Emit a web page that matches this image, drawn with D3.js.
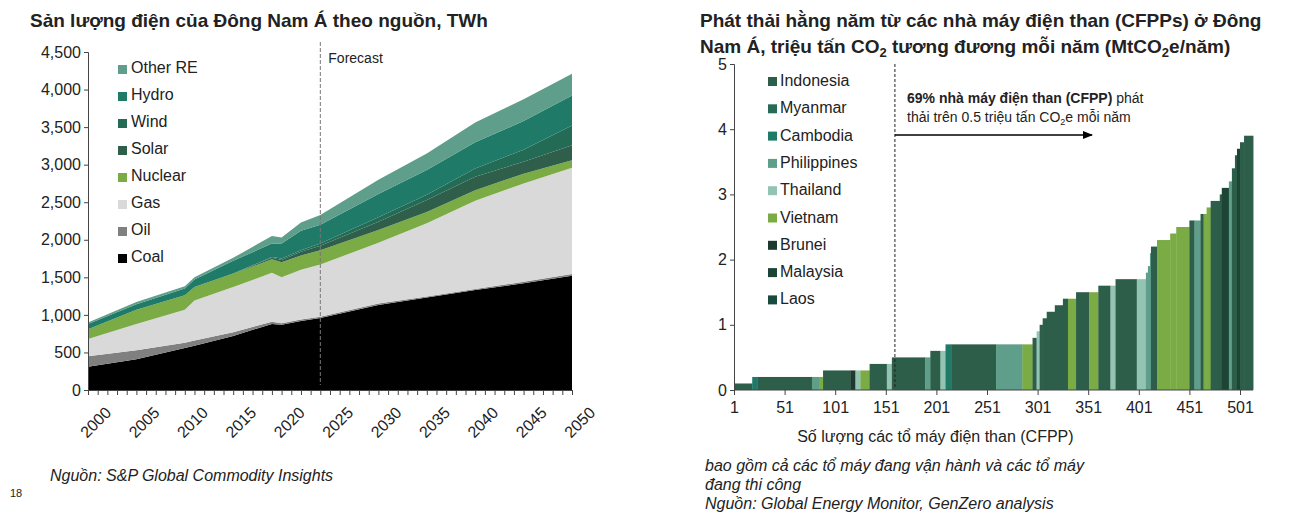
<!DOCTYPE html><html><head><meta charset="utf-8">
<script src="https://cdn.jsdelivr.net/npm/d3@7"></script>
<style>body{margin:0;background:#fff;font-family:Arial,"Liberation Sans",sans-serif}</style></head><body>
<svg id="c" width="1302" height="532"></svg>
<script>
const years=[2000,2005,2010,2011,2015,2019,2020,2022,2024,2030,2035,2040,2045,2050];
const coal=[310,410,560,590,720,880,870,920,960,1130,1230,1330,1420,1520];
const oil=[140,120,70,70,50,30,20,20,15,20,15,15,20,25];
const gas=[230,350,440,530,600,650,610,660,695,810,975,1175,1310,1415];
const nuclear=[130,190,190,180,180,180,200,190,190,170,150,140,130,100];
const solar=[0,0,0,0,0,20,30,50,60,110,160,180,160,200];
const wind=[0,0,0,0,0,10,20,20,30,60,70,110,160,260];
const hydro=[70,70,90,100,170,180,200,260,250,310,330,350,380,400];
const otherRE=[20,30,30,30,40,100,80,110,130,190,220,260,290,290];
const seriesNames=["Coal","Oil","Gas","Nuclear","Solar","Wind","Hydro","Other RE"];
const seriesVals=[coal,oil,gas,nuclear,solar,wind,hydro,otherRE];
const seriesColors=["#000000","#808080","#d9d9d9","#7aab44","#2f5f4a","#246b55","#1f7a68","#5e9e8a"];
const yTicksL=[0,500,1000,1500,2000,2500,3000,3500,4000,4500];
const xTicksL=[2000,2005,2010,2015,2020,2025,2030,2035,2040,2045,2050];

const segStart=[1,19,24,78,85,89,116,121,126,135,152,157,190,195,205,210,216,260,286,296,300,303,306,310,318,326,331,339,352,361,373,378,399,408,410,412,413,419,432,438,451,456,462,465,468,472,481,483,490,493,496,498,501,505];
const segEnd=[19,24,78,85,89,116,121,126,135,152,157,190,195,205,210,216,260,286,296,300,303,306,310,318,326,331,339,352,361,373,378,399,408,410,412,413,419,432,438,451,456,462,465,468,472,481,483,490,493,496,498,501,505,514];
const segVal=[0.1,0.2,0.2,0.2,0.2,0.3,0.3,0.3,0.3,0.4,0.4,0.5,0.5,0.6,0.6,0.7,0.7,0.7,0.7,0.8,0.9,1.0,1.1,1.2,1.3,1.4,1.4,1.5,1.5,1.6,1.6,1.7,1.7,1.8,1.9,2.1,2.2,2.3,2.4,2.5,2.6,2.6,2.7,2.7,2.8,2.9,3.0,3.1,3.2,3.4,3.6,3.7,3.8,3.9];
const segCountry=["Indonesia","Cambodia","Indonesia","Philippines","Vietnam","Indonesia","Brunei","Thailand","Vietnam","Indonesia","Thailand","Indonesia","Philippines","Indonesia","Thailand","Cambodia","Indonesia","Philippines","Vietnam","Indonesia","Thailand","Indonesia","Indonesia","Indonesia","Indonesia","Indonesia","Vietnam","Indonesia","Vietnam","Indonesia","Thailand","Indonesia","Thailand","Philippines","Philippines","Philippines","Indonesia","Vietnam","Vietnam","Vietnam","Indonesia","Philippines","Indonesia","Vietnam","Vietnam","Indonesia","Indonesia","Malaysia","Philippines","Indonesia","Indonesia","Malaysia","Indonesia","Indonesia"];
const countries=["Indonesia","Myanmar","Cambodia","Philippines","Thailand","Vietnam","Brunei","Malaysia","Laos"];
const countryColors=["#2d5e4a","#266b55","#1f7a68","#5e9e8a","#93c4b3","#7aab44","#1e3a2e","#1d4535","#1a4a3e"];
const yTicksR=[0,1,2,3,4,5];
const xTicksR=[1,51,101,151,201,251,301,351,401,451,501];

const svg=d3.select("#c");
const F="Arial,'Liberation Sans',sans-serif";
const xL=d3.scaleLinear().domain([2000,2050]).range([88,572]);
const yL=d3.scaleLinear().domain([0,4500]).range([390,52]);
const rows=years.map((y,i)=>{const o={year:y};seriesNames.forEach((n,k)=>o[n]=seriesVals[k][i]);return o;});
const stack=d3.stack().keys(seriesNames)(rows);
const area=d3.area().x(d=>xL(d.data.year)).y0(d=>yL(d[0])).y1(d=>yL(d[1]));
svg.append("g").selectAll("path").data(stack).join("path").attr("d",area).attr("fill",(d,i)=>seriesColors[i]);
const axL=svg.append("g").attr("transform","translate(88,0)").call(d3.axisLeft(yL).tickValues(yTicksL).tickFormat(d3.format(",")).tickSize(4));
axL.selectAll("text").attr("font-size",16).attr("font-family",F).attr("fill","#222");
const axB=svg.append("g").attr("transform","translate(0,390)").call(d3.axisBottom(xL).ticks(50).tickSize(5).tickFormat(d=>xTicksL.includes(d)?d:""));
axB.selectAll("text").attr("font-size",16).attr("font-family",F).attr("fill","#222").attr("text-anchor","end").attr("transform","translate(10,10) rotate(-45)");
[axL,axB].forEach(a=>{a.selectAll("path,line").attr("stroke","#444");});
svg.append("line").attr("x1",xL(2024)).attr("x2",xL(2024)).attr("y1",42).attr("y2",385).attr("stroke","#777").attr("stroke-dasharray","4,2");
svg.append("text").attr("x",xL(2024)+8).attr("y",63).text("Forecast").attr("font-size",14).attr("font-family",F).attr("fill","#222");
const legL=[...seriesNames].reverse(), legC=[...seriesColors].reverse();
legL.forEach((n,i)=>{const y=68+i*27;svg.append("rect").attr("x",118).attr("y",y-3).attr("width",9).attr("height",9).attr("fill",legC[i]);
svg.append("text").attr("x",131).attr("y",y+5).text(n).attr("font-size",16).attr("font-family",F).attr("fill","#222");});
svg.append("text").attr("x",30).attr("y",27).text("Sản lượng điện của Đông Nam Á theo nguồn, TWh").attr("font-size",19).attr("font-weight","bold").attr("font-family",F).attr("fill","#222");
svg.append("text").attr("x",50).attr("y",481).text("Nguồn: S&P Global Commodity Insights").attr("font-size",16).attr("font-style","italic").attr("font-family",F).attr("fill","#222");
svg.append("text").attr("x",10).attr("y",497).text("18").attr("font-size",11).attr("font-family",F).attr("fill","#222");
const xR=d3.scaleLinear().domain([1,501]).range([734,1240]);
const yR=d3.scaleLinear().domain([0,5]).range([390,64]);
const cmap=Object.fromEntries(countries.map((c,i)=>[c,countryColors[i]]));
svg.append("g").selectAll("rect").data(segStart.map((s,i)=>({s,e:segEnd[i],v:segVal[i],c:segCountry[i]}))).join("rect")
 .attr("x",d=>xR(d.s)).attr("width",d=>xR(d.e)-xR(d.s)+0.3).attr("y",d=>yR(d.v)).attr("height",d=>yR(0)-yR(d.v)).attr("fill",d=>cmap[d.c]);
const arL=svg.append("g").attr("transform","translate(734,0)").call(d3.axisLeft(yR).tickValues(yTicksR).tickFormat(d3.format("d")).tickSize(4));
arL.selectAll("text").attr("font-size",16).attr("font-family",F).attr("fill","#222");
const arB=svg.append("g").attr("transform","translate(0,390)").call(d3.axisBottom(xR).tickValues(xTicksR).tickSize(5));
arB.select(".domain").attr("d","M734,0H1253");
arB.selectAll("text").attr("font-size",16).attr("font-family",F).attr("fill","#222").attr("dy","0.95em");
[arL,arB].forEach(a=>{a.selectAll("path,line").attr("stroke","#444");});
svg.append("line").attr("x1",xR(160)).attr("x2",xR(160)).attr("y1",64).attr("y2",388).attr("stroke","#222").attr("stroke-dasharray","3,2");
svg.append("defs").append("marker").attr("id","ar").attr("viewBox","0 0 10 10").attr("refX",9).attr("refY",5).attr("markerWidth",7).attr("markerHeight",7).attr("orient","auto").append("path").attr("d","M0,1L10,5L0,9z").attr("fill","#000");
svg.append("line").attr("x1",xR(160)).attr("x2",1092).attr("y1",135).attr("y2",135).attr("stroke","#000").attr("stroke-width",1.5).attr("marker-end","url(#ar)");
const t1=svg.append("text").attr("x",907).attr("y",103).attr("font-size",14).attr("font-family",F).attr("fill","#222");
t1.append("tspan").attr("font-weight","bold").text("69% nhà máy điện than (CFPP)");t1.append("tspan").text(" phát");
const t2=svg.append("text").attr("x",907).attr("y",122).attr("font-size",14).attr("font-family",F).attr("fill","#222");
t2.append("tspan").text("thải trên 0.5 triệu tấn CO");t2.append("tspan").attr("font-size",9).attr("dy",3).text("2");t2.append("tspan").attr("dy",-3).text("e mỗi năm");
countries.forEach((n,i)=>{const y=80+i*27.3;svg.append("rect").attr("x",768).attr("y",y-3).attr("width",9).attr("height",9).attr("fill",countryColors[i]);
svg.append("text").attr("x",780).attr("y",y+6).text(n).attr("font-size",16).attr("font-family",F).attr("fill","#222");});
svg.append("text").attr("x",700).attr("y",27).text("Phát thải hằng năm từ các nhà máy điện than (CFPPs) ở Đông").attr("font-size",19).attr("font-weight","bold").attr("font-family",F).attr("fill","#222");
const tt=svg.append("text").attr("x",700).attr("y",53).attr("font-size",19).attr("font-weight","bold").attr("font-family",F).attr("fill","#222");
tt.append("tspan").text("Nam Á, triệu tấn CO");tt.append("tspan").attr("font-size",13).attr("dy",4).text("2");tt.append("tspan").attr("dy",-4).text(" tương đương mỗi năm (MtCO");tt.append("tspan").attr("font-size",13).attr("dy",4).text("2");tt.append("tspan").attr("dy",-4).text("e/năm)");
svg.append("text").attr("x",xR(200)).attr("y",442).attr("text-anchor","middle").text("Số lượng các tổ máy điện than (CFPP)").attr("font-size",16).attr("font-family",F).attr("fill","#222");
["bao gồm cả các tổ máy đang vận hành và các tổ máy","đang thi công","Nguồn: Global Energy Monitor, GenZero analysis"].forEach((s,i)=>
svg.append("text").attr("x",705).attr("y",471+i*19).text(s).attr("font-size",16).attr("font-style","italic").attr("font-family",F).attr("fill","#222"));
</script></body></html>
